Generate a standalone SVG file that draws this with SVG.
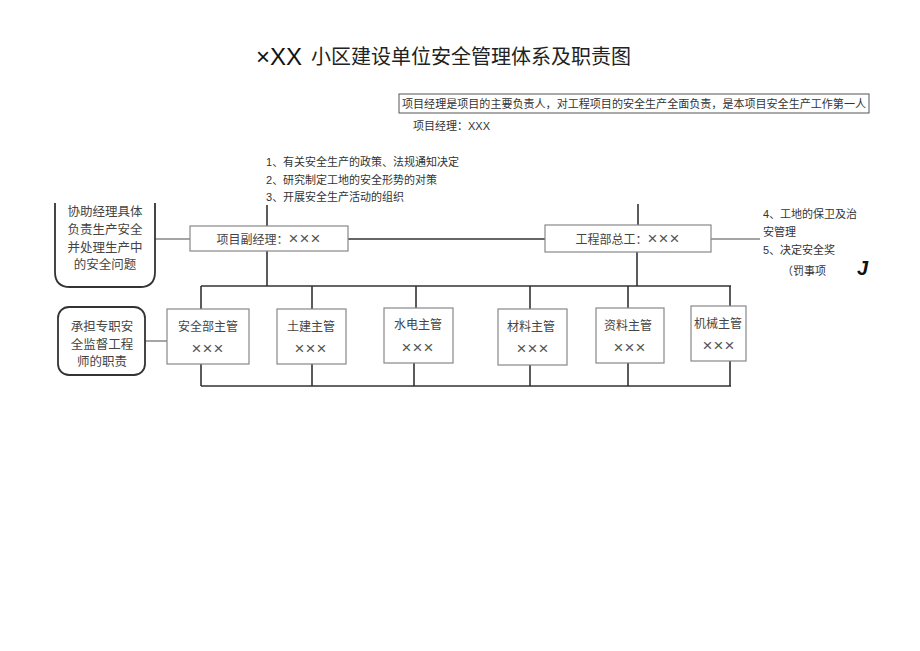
<svg xmlns="http://www.w3.org/2000/svg" width="920" height="651" viewBox="0 0 920 651">
<style>
text{font-family:"Liberation Serif","Noto Sans CJK SC",serif;fill:#333}
.t{font-size:11px}
.b{font-size:12px;text-anchor:middle;fill:#444}
.x{font-family:"Liberation Sans",sans-serif;font-size:17px;letter-spacing:1px;fill:#555}
.d{font-family:"Liberation Sans",sans-serif}
.n{fill:#fff;stroke:#888;stroke-width:1.2}
.r{fill:#fff;stroke:#333;stroke-width:1.8}
.ln{stroke:#333;stroke-width:1.6;fill:none}
.lg{stroke:#888;stroke-width:1.4;fill:none}
</style>
<rect width="920" height="651" fill="#fff"/>
<g id="title">
<text x="256" y="65" style="font-family:'Liberation Sans',sans-serif;font-size:24px;fill:#111">×XX</text>
<text x="311" y="64" style="font-size:20px;fill:#222">小区建设单位安全管理体系及职责图</text>
</g>
<g id="pm-note">
<rect x="399" y="94" width="470" height="19" fill="#fff" stroke="#555" stroke-width="1"/>
<text x="402" y="108" class="t" textLength="464" lengthAdjust="spacingAndGlyphs">项目经理是项目的主要负责人，对工程项目的安全生产全面负责，是本项目安全生产工作第一人</text>
<text x="413" y="130" class="t">项目经理：<tspan class="d">XXX</tspan></text>
</g>
<g id="duties-1">
<text x="266" y="166" class="t"><tspan class="d">1</tspan>、有关安全生产的政策、法规通知决定</text>
<text x="266" y="184" class="t"><tspan class="d">2</tspan>、研究制定工地的安全形势的对策</text>
<text x="266" y="201" class="t"><tspan class="d">3</tspan>、开展安全生产活动的组织</text>
</g>
<g id="duties-2">
<text x="763" y="218" class="t"><tspan class="d">4</tspan>、工地的保卫及治</text>
<text x="763" y="236" class="t">安管理</text>
<text x="763" y="254" class="t"><tspan class="d">5</tspan>、决定安全奖</text>
<text x="782" y="275" class="t">（罚事项</text>
<text x="857" y="275" style="font-family:'Liberation Sans',sans-serif;font-size:20px;font-style:italic;font-weight:bold;fill:#111">J</text>
</g>
<g id="connectors">
<path class="ln" d="M267,205V226M267,251V286M638,204V225M637,252V286"/>
<path class="ln" d="M348,239H546"/>
<path class="lg" d="M155,239H190M711,239H760M145,341H167"/>
<path class="ln" d="M201,286H731M201,286V309M312,286V309M416,286V308M530,286V309M628,286V308M730,286V306"/>
<path class="ln" d="M201,386H731M201,364V386M312,364V386M414,363V386M530,365V386M628,363V386M730,361V386"/>
</g>
<g id="assist-note">
<path class="r" d="M55,203V272Q55,287 70,287H140Q155,287 155,272V203"/>
<text x="105" y="216" class="b" style="font-size:12.5px">协助经理具体</text>
<text x="105" y="234" class="b" style="font-size:12.5px">负责生产安全</text>
<text x="105" y="252" class="b" style="font-size:12.5px">并处理生产中</text>
<text x="105" y="269" class="b" style="font-size:12.5px">的安全问题</text>
</g>
<g id="safety-note">
<rect class="r" x="58" y="307" width="87" height="68" rx="11"/>
<text x="102" y="331" class="b" style="font-size:12.5px">承担专职安</text>
<text x="102" y="349" class="b" style="font-size:12.5px">全监督工程</text>
<text x="102" y="366" class="b" style="font-size:12.5px">师的职责</text>
</g>
<g id="deputy-pm">
<rect class="n" x="190" y="226" width="158" height="25"/>
<text x="269" y="244" class="b">项目副经理：<tspan class="x">×××</tspan></text>
</g>
<g id="chief-engineer">
<rect class="n" x="545" y="225" width="166" height="27"/>
<text x="628" y="244" class="b">工程部总工：<tspan class="x">×××</tspan></text>
</g>
<g id="safety-mgr">
<rect class="n" x="167" y="309" width="82" height="55"/>
<text x="208" y="331" class="b">安全部主管</text>
<text x="208" y="354" class="b x">×××</text>
</g>
<g id="civil-mgr">
<rect class="n" x="277" y="309" width="69" height="55"/>
<text x="311" y="331" class="b">土建主管</text>
<text x="311" y="354" class="b x">×××</text>
</g>
<g id="mep-mgr">
<rect class="n" x="384" y="308" width="69" height="55"/>
<text x="418" y="329" class="b">水电主管</text>
<text x="418" y="353" class="b x">×××</text>
</g>
<g id="material-mgr">
<rect class="n" x="498" y="309" width="69" height="56"/>
<text x="531" y="331" class="b">材料主管</text>
<text x="533" y="354" class="b x">×××</text>
</g>
<g id="docs-mgr">
<rect class="n" x="596" y="308" width="68" height="55"/>
<text x="628" y="330" class="b">资料主管</text>
<text x="630" y="353" class="b x">×××</text>
</g>
<g id="machine-mgr">
<rect class="n" x="691" y="306" width="55" height="55"/>
<text x="718" y="328" class="b">机械主管</text>
<text x="719" y="351" class="b x">×××</text>
</g>
</svg>
